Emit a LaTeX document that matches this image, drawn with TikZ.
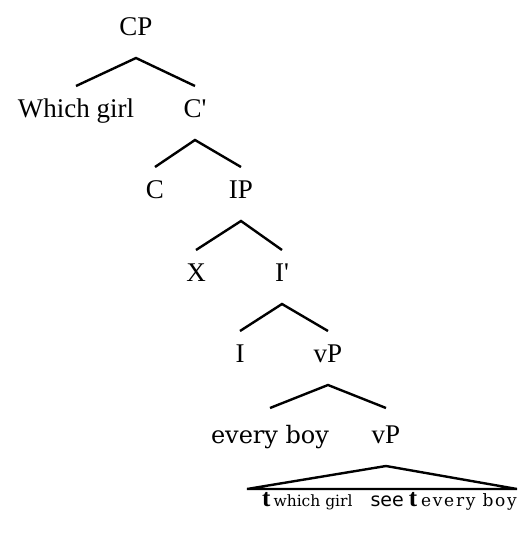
\documentclass[tikz,border=0pt]{standalone}
\usepackage{fontspec}
\setmainfont{Liberation Serif}
\newfontfamily\dvserif{DejaVu Serif}
\newfontfamily\dvsans{DejaVu Sans}
\usetikzlibrary{positioning}

\begin{document}
\begin{tikzpicture}[
        x=1pt, y=-1pt,
        cat/.style={inner xsep=0pt, inner ysep=0pt, outer sep=0pt, anchor=base,
            text height=31pt, text depth=23pt, font=\fontsize{27}{30}\selectfont},
        branch/.style={line width=2.4pt}
    ]
        \useasboundingbox (0,0) rectangle (526,533);

        % Top of the tree
        \node[cat] (cp) at (136,35) {CP};
        \node[cat] (wg) at (76,117) {Which girl};
        \node[cat] (cbar) at (195,117) {C\textquotesingle};
        \draw[branch] (wg.north) -- (cp.south) -- (cbar.north);

        % C' and IP
        \node[cat] (c) at (155,198) {C};
        \node[cat] (ip) at (241,198) {IP};
        \draw[branch] (c.north) -- (cbar.south) -- (ip.north);

        \node[cat] (x) at (196,281) {X};
        \node[cat] (ibar) at (282,281) {I\textquotesingle};
        \draw[branch] (x.north) -- (ip.south) -- (ibar.north);

        \node[cat] (i) at (240,362) {I};
        \node[cat] (vp) at (328,362) {vP};
        \draw[branch] (i.north) -- (ibar.south) -- (vp.north);

        % Lower vP
        \node[cat, text height=35pt, font=\dvserif\fontsize{24}{28}\selectfont] (eb) at (270,443) {every boy};
        \node[cat, text height=35pt] (vpb) at (386,443) {vP};
        \draw[branch] (eb.north) -- (vp.south) -- (vpb.north);

        % Triangle
        \coordinate (tl) at (247,489);
        \coordinate (tr) at (517,489);
        \draw[branch, line join=miter] (vpb.south) -- (tr) -- (tl) -- cycle;

        \node[inner sep=0pt, anchor=base west] (yield) at (262,506) {%
            {\bfseries\fontsize{25}{28}\selectfont t}\hspace{3pt}%
            {\dvserif\fontsize{15.5}{18}\selectfont which girl}\hspace{18pt}%
            {\dvsans\fontsize{19}{22}\selectfont see}\hspace{5pt}%
            {\bfseries\fontsize{25}{28}\selectfont t}\hspace{4pt}%
            {\dvserif\fontsize{17}{18}\selectfont\addfontfeatures{LetterSpace=10}every boy}};
\end{tikzpicture}
\end{document}
